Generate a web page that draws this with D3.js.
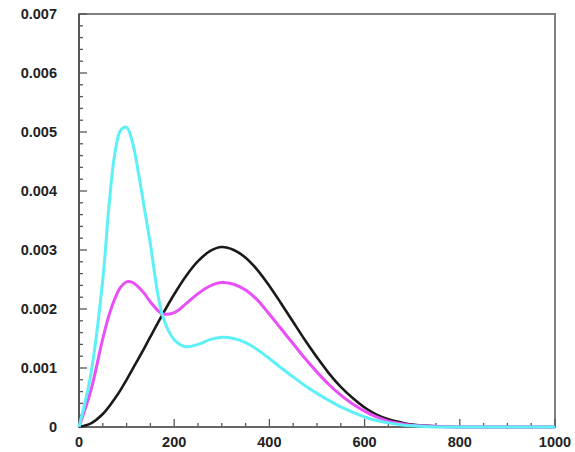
<!DOCTYPE html>
<html>
<head>
<meta charset="utf-8">
<script src="https://cdn.jsdelivr.net/npm/d3@7"></script>
<style>
  body { margin: 0; background: #fff; }
  text { font-family: "Liberation Sans", Arial, sans-serif; font-weight: bold; font-size: 14.5px; fill: #222; }
</style>
</head>
<body>
<div class="svgcontainer"></div>
<script>
// x positions where the curves were read (denser around the first peak)
const xs = [0,25,50,62.5,75,87.5,100,112.5,125,137.5,150,175,200,225,250,275,300,325,350,375,400,425,450,475,500,525,550,575,600,625,650,675,700,750,800,850,900,950,1000];

const blackVals = [0,0.00006,0.00022,0.00034,0.00048,0.00063,0.0008,0.00098,0.00116,0.00134,0.00153,0.0019,0.00225,0.00256,0.00281,0.00298,0.00305,0.003,0.00287,0.00266,0.00239,0.00209,0.00178,0.00147,0.00118,0.00091,0.00068,0.00049,0.00033,0.00021,0.00013,0.00008,0.00004,0.00001,0,0,0,0,0];
const magentaVals = [0,0.00062,0.0015,0.00188,0.00217,0.00237,0.00246,0.00245,0.00237,0.00226,0.00212,0.00192,0.00194,0.00209,0.00226,0.00239,0.00245,0.00242,0.00232,0.00215,0.00191,0.00166,0.00141,0.00116,0.00093,0.00072,0.00054,0.00039,0.00027,0.00017,0.0001,0.00006,0.00003,0.00001,0,0,0,0,0];
const cyanVals = [0,0.0009,0.0025,0.0037,0.00462,0.00503,0.00508,0.00482,0.0043,0.0037,0.0031,0.0019,0.00148,0.00136,0.0014,0.00148,0.00152,0.0015,0.00143,0.00131,0.00116,0.001,0.00085,0.0007,0.00057,0.00045,0.00034,0.00025,0.00017,0.00011,0.00007,0.00004,0.00002,0,0,0,0,0,0];

const xTicks = [0,200,400,600,800,1000];
const yTicks = [0,0.001,0.002,0.003,0.004,0.005,0.006,0.007];

const series = [
  {name: "black", color: "#1a1a1a", width: 2.6, vals: blackVals},
  {name: "magenta", color: "#e94ff7", width: 3, vals: magentaVals},
  {name: "cyan", color: "#5ef0f7", width: 3, vals: cyanVals}
];

function drawChart()
{
    const W = 575, H = 452;
    const margin = {top: 14, right: 20, bottom: 25, left: 79};

    const x = d3.scaleLinear().domain([0,1000]).range([margin.left, W - margin.right]);
    const y = d3.scaleLinear().domain([0,0.007]).range([H - margin.bottom, margin.top]);

    const svg = d3.select('.svgcontainer')
        .append('svg')
        .attr('width', W)
        .attr('height', H);

    // frame
    svg.append('rect')
        .attr('x', x(0)).attr('y', y(0.007))
        .attr('width', x(1000) - x(0))
        .attr('height', y(0) - y(0.007))
        .attr('fill', 'none')
        .attr('stroke', '#808080')
        .attr('stroke-width', 2);

    // minor ticks, drawn inward
    const xMinor = d3.range(0, 1001, 50);
    svg.selectAll('.xminor')
        .data(xMinor)
        .enter()
        .append('line')
        .attr('x1', d => x(d)).attr('x2', d => x(d))
        .attr('y1', y(0)).attr('y2', d => y(0) - (d % 200 === 0 ? 8 : 4))
        .attr('stroke', '#555').attr('stroke-width', 1.3);

    const yMinor = d3.range(0, 36).map(i => i * 0.0002);
    svg.selectAll('.yminor')
        .data(yMinor)
        .enter()
        .append('line')
        .attr('y1', d => y(d)).attr('y2', d => y(d))
        .attr('x1', x(0)).attr('x2', (d, i) => x(0) + (i % 5 === 0 ? 8 : 4))
        .attr('stroke', '#555').attr('stroke-width', 1.3);

    // axis lines (darker than the frame)
    svg.append('line')
        .attr('x1', x(0)).attr('x2', x(1000))
        .attr('y1', y(0)).attr('y2', y(0))
        .attr('stroke', '#666').attr('stroke-width', 2);
    svg.append('line')
        .attr('x1', x(0)).attr('x2', x(0))
        .attr('y1', y(0)).attr('y2', y(0.007))
        .attr('stroke', '#555').attr('stroke-width', 2);

    // tick labels
    svg.selectAll('.xlab')
        .data(xTicks)
        .enter()
        .append('text')
        .attr('x', d => x(d))
        .attr('y', 447)
        .style('text-anchor', 'middle')
        .text(d => d);

    svg.selectAll('.ylab')
        .data(yTicks)
        .enter()
        .append('text')
        .attr('x', 57)
        .attr('y', d => y(d) + 5)
        .style('text-anchor', 'end')
        .text(d => d === 0 ? '0' : d3.format('.3f')(d));

    // curves
    const line = d3.line()
        .x((d, i) => x(xs[i]))
        .y(d => y(d))
        .curve(d3.curveCatmullRom.alpha(0.5));

    series.forEach(function(s)
    {
        svg.append('path')
            .datum(s.vals)
            .attr('class', 'curve ' + s.name)
            .attr('fill', 'none')
            .attr('stroke', s.color)
            .attr('stroke-width', s.width)
            .attr('stroke-linejoin', 'round')
            .attr('d', line);
    });
}

drawChart();
</script>
</body>
</html>
